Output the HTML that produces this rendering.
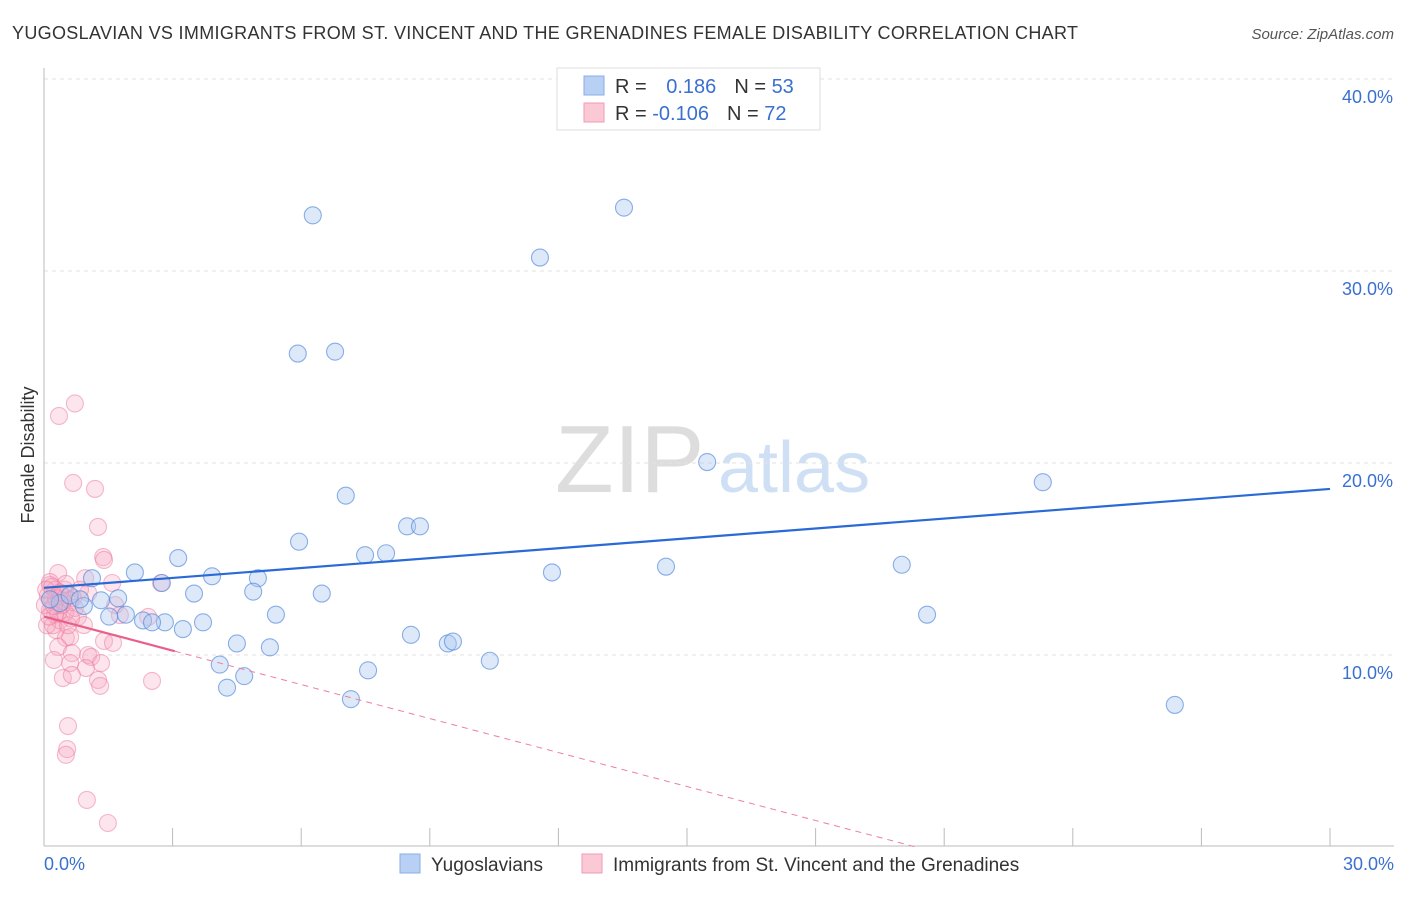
<!DOCTYPE html>
<html><head><meta charset="utf-8"><style>
body{margin:0;background:#fff;font-family:"Liberation Sans",sans-serif;}
svg text{font-family:"Liberation Sans",sans-serif;}
</style></head><body>
<svg width="1406" height="892" id="chart">
<text x="12" y="39" font-size="18" fill="#333" textLength="1066" lengthAdjust="spacing">YUGOSLAVIAN VS IMMIGRANTS FROM ST. VINCENT AND THE GRENADINES FEMALE DISABILITY CORRELATION CHART</text>
<text x="1394" y="39" font-size="15" fill="#555" font-style="italic" text-anchor="end">Source: ZipAtlas.com</text>
<text x="34" y="455" font-size="18" fill="#333" transform="rotate(-90 34 455)" text-anchor="middle">Female Disability</text>
<g><text x="555" y="492" font-size="96" fill="#ddd" font-family="Liberation Serif">ZIP</text><text x="718" y="492" font-size="72" fill="#cfe0f5">atlas</text></g>
<g id="grid"></g><g id="axes"></g><g id="pts"></g><g id="trend"></g>
<g>
<rect x="557" y="68" width="263" height="62" fill="#fff" stroke="#ddd"/>
<rect x="584" y="76" width="20" height="19" fill="#b8d0f3" stroke="#88aee6"/>
<rect x="584" y="103" width="20" height="19" fill="#fbc8d6" stroke="#f09ab4"/>
<text x="615" y="93" font-size="20" fill="#333">R = <tspan fill="#3a70d0" dx="14">0.186</tspan><tspan dx="18" fill="#333">N = </tspan><tspan fill="#3a70d0">53</tspan></text>
<text x="615" y="120" font-size="20" fill="#333">R = <tspan fill="#3a70d0">-0.106</tspan><tspan dx="18" fill="#333">N = </tspan><tspan fill="#3a70d0">72</tspan></text>
</g>
<g>
<rect x="400" y="854" width="20" height="19" fill="#b8d0f3" stroke="#88aee6"/>
<text x="431" y="871" font-size="19" fill="#333">Yugoslavians</text>
<rect x="582" y="854" width="20" height="19" fill="#fbc8d6" stroke="#f09ab4"/>
<text x="613" y="871" font-size="19" fill="#333">Immigrants from St. Vincent and the Grenadines</text>
</g>
</svg>
<script>
const yTicks=[10,20,30,40];
const yTickLabels=["10.0%","20.0%","30.0%","40.0%"];
const xTickLabels=["0.0%","30.0%"];
const blueX=[6.27,13.53,11.57,5.92,6.79,15.47,23.3,7.04,8.47,8.77,5.95,7.49,7.98,3.13,2.12,3.92,4.99,11.85,14.51,20.01,1.12,2.75,3.5,4.88,6.48,1.73,1.33,0.93,5.41,20.6,1.91,1.52,2.31,2.82,2.52,3.71,3.24,4.5,8.56,9.42,9.54,5.27,10.4,4.1,7.56,4.67,4.27,7.16,26.38,0.37,0.6,0.14,0.84];
const blueY=[32.9,33.3,30.7,25.7,25.8,20.05,19.0,18.3,16.7,16.7,15.9,15.2,15.3,15.05,14.3,14.1,14.0,14.3,14.6,14.7,14.0,13.75,13.2,13.3,13.2,12.95,12.85,12.55,12.1,12.1,12.1,12.0,11.8,11.7,11.7,11.7,11.35,10.6,11.05,10.6,10.7,10.4,9.7,9.5,9.2,8.9,8.3,7.7,7.4,12.7,13.1,12.9,12.9];
const pinkX=[0.72,0.35,0.68,1.19,1.26,1.38,1.4,0.33,0.96,1.59,2.73,0.14,0.49,1.03,0.68,1.66,1.77,2.43,0.79,0.93,0.28,0.51,0.61,0.33,1.4,1.61,0.65,1.03,1.1,0.23,0.61,1.33,0.98,0.44,0.65,1.26,2.52,1.31,0.56,0.54,0.51,1.0,1.49,
0.14,0.26,0.09,0.19,0.33,0.42,0.14,0.26,0.49,0.37,0.07,0.61,0.21,0.56,0.02,0.28,0.42,0.12,0.72,0.84,0.51,0.19,0.33,0.44,0.05,0.23,0.37,0.63];
const pinkY=[23.1,22.45,18.96,18.65,16.67,15.1,14.95,14.27,14.0,13.75,13.75,13.65,13.4,13.23,12.97,12.6,12.08,11.98,11.98,11.56,11.3,10.89,10.94,10.42,10.73,10.63,10.1,10.0,9.9,9.74,9.58,9.58,9.32,8.8,8.96,8.7,8.65,8.39,6.3,5.1,4.8,2.45,1.25,
13.8,13.4,13.1,12.85,12.6,13.1,12.35,12.1,12.2,11.8,11.55,12.85,11.55,11.55,12.6,12.95,12.6,12.0,12.45,13.4,13.7,13.55,12.2,12.8,13.4,12.55,13.25,11.9];
const blueTrend=[13.5,18.65];
const pinkTrend=[12.0,-0.59];
const X=v=>44+v/30*1286, Y=v=>847-v*19.2;
const NS="http://www.w3.org/2000/svg";
function mk(t,a,p){const e=document.createElementNS(NS,t);for(const k in a)e.setAttribute(k,a[k]);document.getElementById(p).appendChild(e);return e;}
yTicks.forEach((t,i)=>{
 const l=mk('line',{x1:44,x2:1394,y1:Y(t),y2:Y(t),stroke:'#e2e2e2','stroke-dasharray':'4,4'},'grid');
 
 
 const tx=mk('text',{x:1393,y:Y(t)+24,'font-size':18,fill:'#3a70d0','text-anchor':'end'},'grid');tx.textContent=yTickLabels[i];
 
 
});
const ya=mk('line',{x1:44,x2:44,y1:68,y2:846,stroke:'#bbb'},'axes');


const xa=mk('line',{x1:44,x2:1394,y1:846,y2:846,stroke:'#bbb'},'axes');


for(let i=1;i<=10;i++){const tk=mk('line',{x1:X(i*3),x2:X(i*3),y1:828,y2:846,stroke:'#bbb'},'axes');
 
 }
[[0,'start',44],[1,'end',1394]].forEach(([i,a,x])=>{const t=mk('text',{x:x,y:870,'font-size':18,fill:'#3a70d0','text-anchor':a},'axes');t.textContent=xTickLabels[i];
 
 });
pinkX.forEach((v,i)=>{const c=mk('circle',{cx:X(v),cy:Y(pinkY[i]),r:8.5,fill:'rgba(248,170,195,0.3)',stroke:'rgba(236,120,155,0.5)','stroke-width':1.1},'pts');
 
 });
blueX.forEach((v,i)=>{const c=mk('circle',{cx:X(v),cy:Y(blueY[i]),r:8.5,fill:'rgba(170,200,240,0.4)',stroke:'rgba(80,135,220,0.65)','stroke-width':1.1},'pts');
 
 });
const bt=mk('line',{x1:X(0),y1:Y(blueTrend[0]),x2:X(30),y2:Y(blueTrend[1]),stroke:'#2a6ad6','stroke-width':2.2},'trend');


const xe=-pinkTrend[0]/pinkTrend[1];
const pd=mk('line',{x1:X(3.05),y1:Y(pinkTrend[0]+pinkTrend[1]*3.05),x2:X(xe),y2:Y(0),stroke:'#ec7fa0','stroke-width':1,'stroke-dasharray':'6,5'},'trend');


const ps=mk('line',{x1:X(0),y1:Y(pinkTrend[0]),x2:X(3.05),y2:Y(pinkTrend[0]+pinkTrend[1]*3.05),stroke:'#e8608a','stroke-width':2.2},'trend');


</script>
</body></html>
